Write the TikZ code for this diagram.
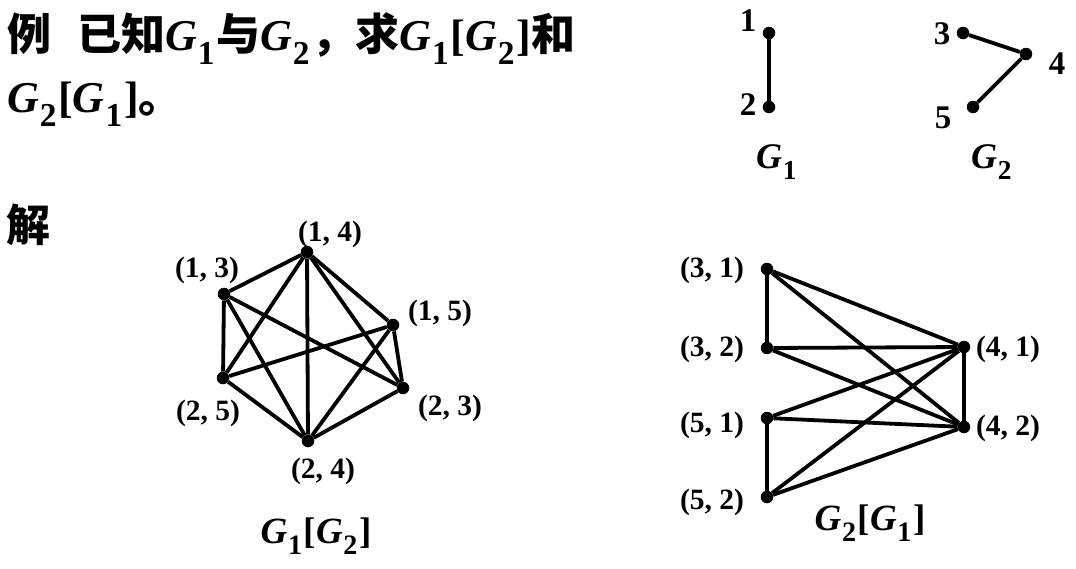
\documentclass[tikz,border=0pt]{standalone}
\usepackage{fontspec}
\usepackage{graphicx}
\setmainfont{Liberation Serif}
\newfontfamily\cjk{Noto Sans CJK SC}
\newcommand\Gsub[1]{{\rmfamily\bfseries\itshape G}{\rmfamily\bfseries\kern0.02em\raisebox{-0.32em}{\scalebox{0.76}{#1}}\kern0.04em}}
\tikzset{
  dot/.style={circle, fill=black, inner sep=0pt, minimum size=12.5pt},
  edge/.style={line width=3.8pt},
  lab/.style={font=\fontsize{29.5}{29.5}\selectfont\bfseries, inner sep=0pt},
  digit/.style={font=\fontsize{33}{33}\selectfont\bfseries, inner sep=0pt},
  gname/.style={font=\fontsize{36}{36}\selectfont, inner sep=0pt, anchor=base},
  pname/.style={font=\fontsize{37}{37}\selectfont, inner sep=0pt, anchor=base},
  title/.style={font=\fontsize{44}{44}\selectfont\cjk\bfseries, inner sep=0pt, anchor=base west}
}
\begin{document}
\begin{tikzpicture}[x=1pt,y=-1pt]
\useasboundingbox (0,0) rectangle (1076,568);
% title
\node[title] (t1) at (7,50) {例\hspace{26pt}已知\Gsub{1}与\Gsub{2}，求\Gsub{1}{\rmfamily\bfseries[}\Gsub{2}{\rmfamily\bfseries]}和};
\node[title] (t2) at (7,112) {\Gsub{2}{\rmfamily\bfseries[}\Gsub{1}{\rmfamily\bfseries]}。};
\node[title] (jie) at (6,241) {解};
% G1
\node[dot] (g1) at (769,33) {};
\node[dot] (g2) at (769,107) {};
\draw[edge] (g1) -- (g2);
\node[digit] (l1) at (748,21) {1};
\node[digit] (l2) at (748,105) {2};
\node[gname] (G1name) at (777,168) {\Gsub{1}};
% G2
\node[dot] (g3) at (963,33) {};
\node[dot] (g4) at (1026,54) {};
\node[dot] (g5) at (973,107) {};
\draw[edge] (g3) -- (g4) -- (g5);
\node[digit] (l3) at (942,34) {3};
\node[digit] (l4) at (1057,64) {4};
\node[digit] (l5) at (943,118) {5};
\node[gname] (G2name) at (992,168) {\Gsub{2}};
% G1[G2]
\node[dot] (a14) at (307,252) {};
\node[dot] (a13) at (224,294) {};
\node[dot] (a15) at (393,325) {};
\node[dot] (a25) at (223,378) {};
\node[dot] (a23) at (403,388) {};
\node[dot] (a24) at (308,441) {};
\foreach \u/\v in {a13/a14,a14/a15,a23/a24,a24/a25,
  a13/a23,a13/a24,a13/a25,a14/a23,a14/a24,a14/a25,a15/a23,a15/a24,a15/a25}
  \draw[edge] (\u) -- (\v);
\node[lab] (la14) at (330,234) {(1, 4)};
\node[lab] (la13) at (207,270) {(1, 3)};
\node[lab] (la15) at (440,313) {(1, 5)};
\node[lab] (la25) at (208,413) {(2, 5)};
\node[lab] (la23) at (450,408) {(2, 3)};
\node[lab] (la24) at (323,471) {(2, 4)};
\node[pname] (P1) at (316,543) {\Gsub{1}{\rmfamily\bfseries[}\Gsub{2}{\rmfamily\bfseries]}};
% G2[G1]
\node[dot] (b31) at (767,269) {};
\node[dot] (b32) at (767,348) {};
\node[dot] (b51) at (767,418) {};
\node[dot] (b52) at (767,497) {};
\node[dot] (b41) at (964,347) {};
\node[dot] (b42) at (964,427) {};
\foreach \u/\v in {b31/b32,b41/b42,b51/b52,
  b31/b41,b31/b42,b32/b41,b32/b42,b51/b41,b51/b42,b52/b41,b52/b42}
  \draw[edge] (\u) -- (\v);
\node[lab] (lb31) at (712,270) {(3, 1)};
\node[lab] (lb32) at (712,349) {(3, 2)};
\node[lab] (lb51) at (712,425) {(5, 1)};
\node[lab] (lb52) at (712,502) {(5, 2)};
\node[lab] (lb41) at (1008,349) {(4, 1)};
\node[lab] (lb42) at (1008,428) {(4, 2)};
\node[pname] (P2) at (870,530) {\Gsub{2}{\rmfamily\bfseries[}\Gsub{1}{\rmfamily\bfseries]}};
\end{tikzpicture}
\end{document}
